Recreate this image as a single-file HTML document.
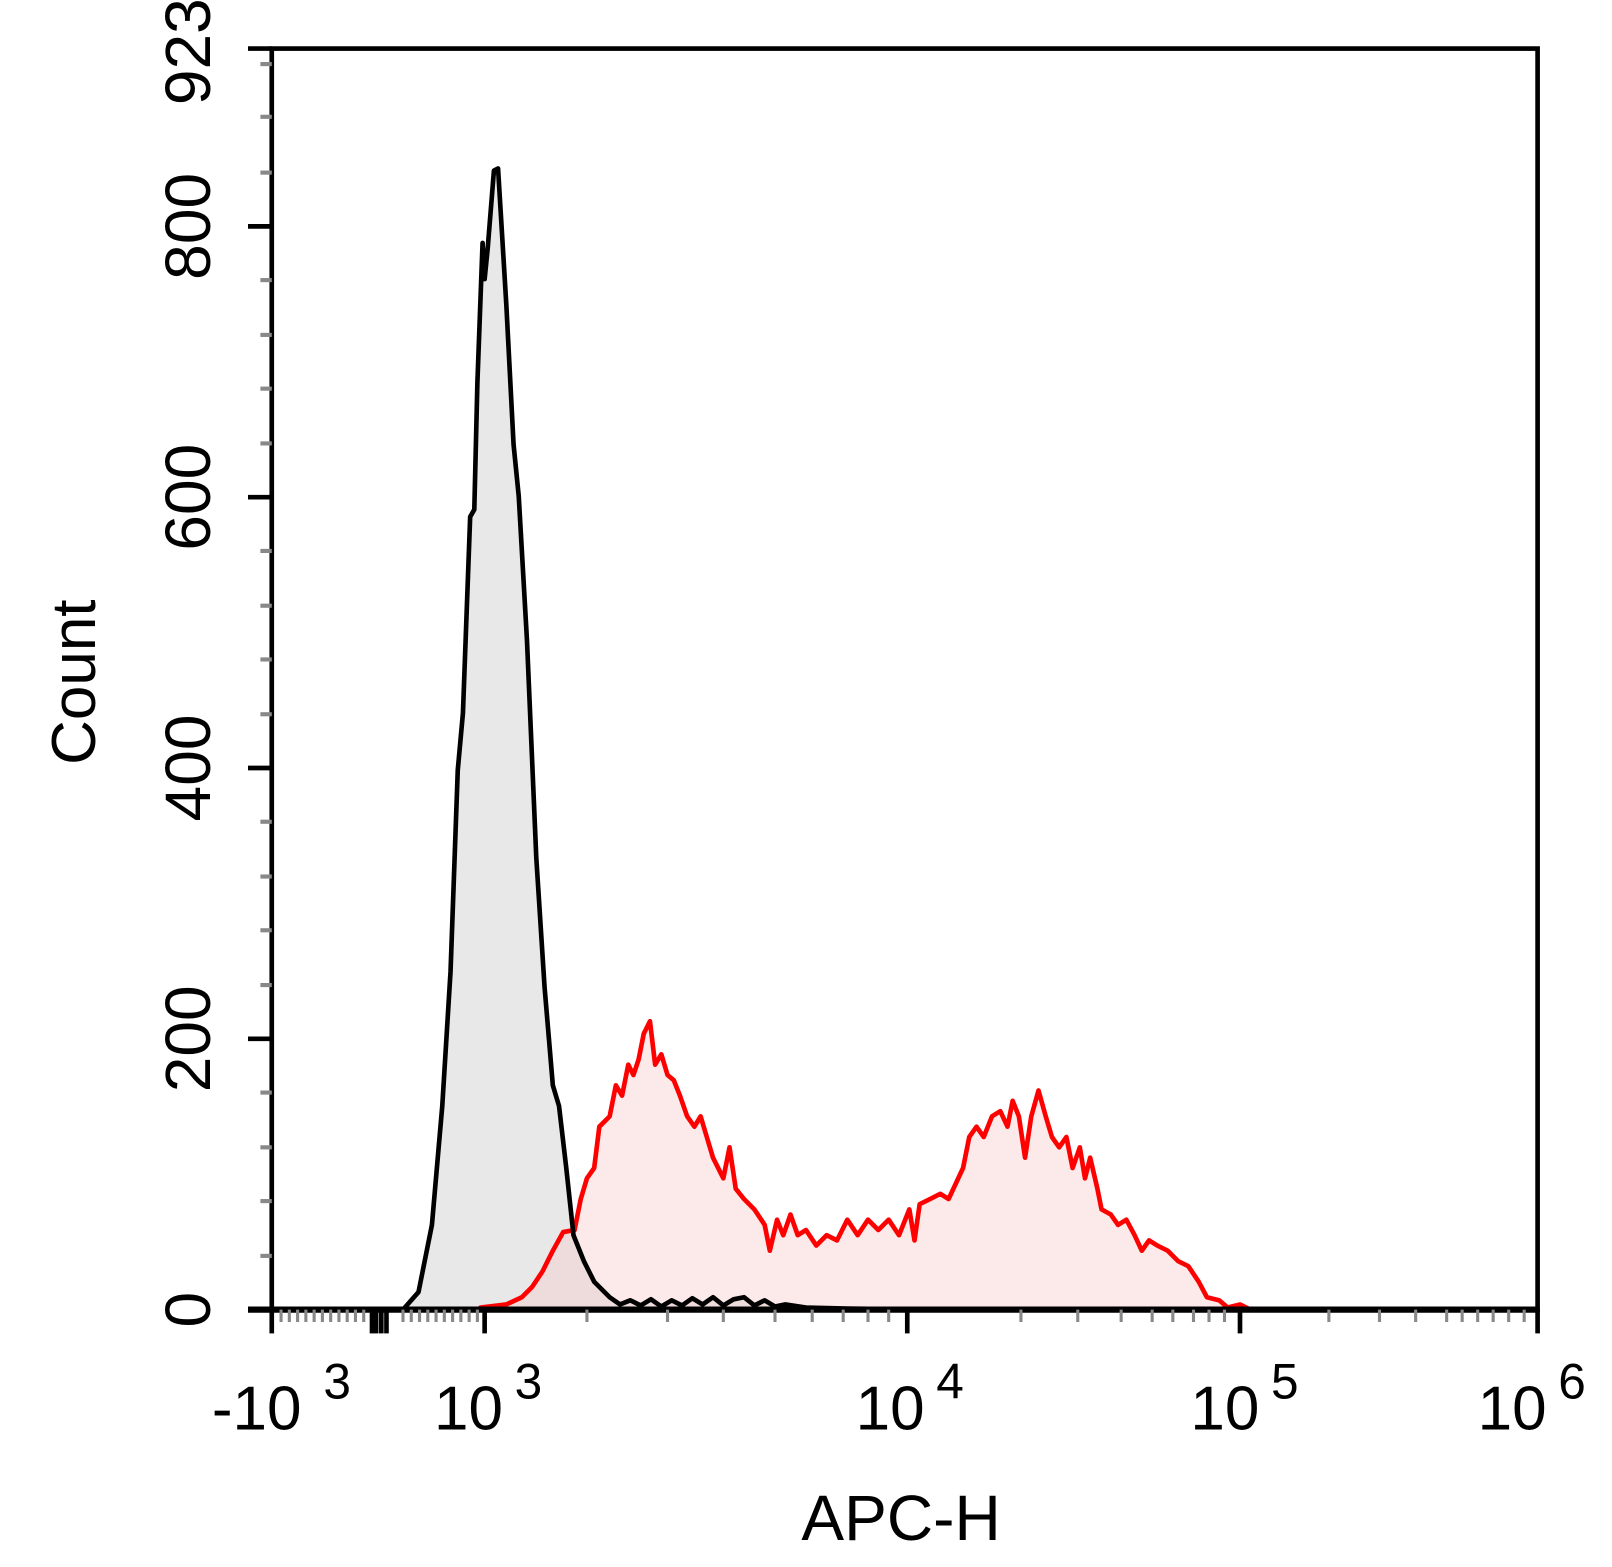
<!DOCTYPE html>
<html><head><style>html,body{margin:0;padding:0;background:#fff}svg{display:block}</style></head>
<body>
<svg width="1612" height="1567" viewBox="0 0 1560 1516" preserveAspectRatio="none" xmlns="http://www.w3.org/2000/svg" font-family="Liberation Sans, Arial, sans-serif">
<rect width="1560" height="1516" fill="#fff"/>
<defs>
<path id="blk" d="M390,1267 L405,1250 418,1185 428,1070 436,940 443,745 448,690 455,500 459,493 462,370 467,235 469,270 472,240 478,165 482,163 490,295 497,430 502,480 510,620 519,830 527,955 535,1050 541,1070 548,1130 555,1195 565,1220 575,1240 590,1255 600,1262 610,1258 620,1263 630,1257 640,1264 650,1258 660,1263 670,1256 680,1262 690,1255 700,1263 710,1257 720,1255 730,1263 740,1258 750,1264 760,1262 780,1265 820,1266 900,1267 Z"/>
</defs>
<use href="#blk" fill="#e8e8e8"/>
<!-- red histogram -->
<path d="M465,1267 L465,1265 490,1262 505,1255 515,1245 525,1230 535,1210 545,1192 556,1190 562,1160 568,1140 575,1130 580,1090 590,1080 596,1050 602,1060 608,1030 613,1040 618,1025 623,1000 629,988 634,1030 640,1020 646,1040 652,1045 658,1060 665,1080 672,1090 678,1080 684,1100 690,1120 700,1140 706,1110 712,1150 720,1160 730,1170 740,1185 745,1210 752,1180 758,1195 765,1175 772,1195 780,1190 790,1205 800,1195 810,1200 820,1180 830,1195 840,1180 850,1190 860,1180 870,1195 880,1170 885,1200 890,1165 900,1160 910,1155 918,1160 925,1145 932,1130 938,1100 945,1090 952,1100 960,1080 968,1075 975,1090 980,1065 986,1080 992,1120 998,1080 1005,1055 1012,1080 1018,1100 1025,1110 1032,1100 1038,1130 1045,1110 1050,1140 1055,1120 1062,1150 1066,1170 1075,1175 1082,1185 1090,1180 1098,1195 1105,1210 1112,1200 1120,1205 1130,1210 1140,1220 1150,1225 1160,1240 1168,1255 1180,1258 1188,1265 1200,1262 1210,1267 Z" fill="rgba(248,200,200,0.4)" stroke="#f00" stroke-width="4.5" stroke-linejoin="round"/>
<use href="#blk" fill="none" stroke="#000" stroke-width="4.5" stroke-linejoin="round"/>
<!-- axes frame -->
<rect x="263" y="47" width="1225" height="1220" fill="none" stroke="#000" stroke-width="4.5"/>
<line x1="240" y1="1267" x2="1490" y2="1267" stroke="#000" stroke-width="6"/>
<line x1="240" y1="47" x2="263" y2="47" stroke="#000" stroke-width="4.5"/>
<g stroke="#000" stroke-width="4.5">
<line x1="240" y1="1005" x2="263" y2="1005"/><line x1="240" y1="743" x2="263" y2="743"/><line x1="240" y1="481" x2="263" y2="481"/><line x1="240" y1="219" x2="263" y2="219"/>
</g>
<g stroke="#888" stroke-width="4">
<line x1="252" y1="1215" x2="263" y2="1215"/><line x1="252" y1="1162" x2="263" y2="1162"/><line x1="252" y1="1110" x2="263" y2="1110"/><line x1="252" y1="1057" x2="263" y2="1057"/>
<line x1="252" y1="953" x2="263" y2="953"/><line x1="252" y1="900" x2="263" y2="900"/><line x1="252" y1="848" x2="263" y2="848"/><line x1="252" y1="795" x2="263" y2="795"/>
<line x1="252" y1="691" x2="263" y2="691"/><line x1="252" y1="638" x2="263" y2="638"/><line x1="252" y1="586" x2="263" y2="586"/><line x1="252" y1="533" x2="263" y2="533"/>
<line x1="252" y1="429" x2="263" y2="429"/><line x1="252" y1="376" x2="263" y2="376"/><line x1="252" y1="324" x2="263" y2="324"/><line x1="252" y1="271" x2="263" y2="271"/>
<line x1="252" y1="167" x2="263" y2="167"/><line x1="252" y1="113" x2="263" y2="113"/><line x1="252" y1="62" x2="263" y2="62"/>
</g>
<g stroke="#000" stroke-width="4.5">
<line x1="263" y1="1267" x2="263" y2="1290"/><line x1="469" y1="1267" x2="469" y2="1290"/><line x1="878" y1="1267" x2="878" y2="1290"/><line x1="1200" y1="1267" x2="1200" y2="1290"/><line x1="1488" y1="1267" x2="1488" y2="1290"/>
<line x1="360" y1="1267" x2="360" y2="1290"/><line x1="364" y1="1267" x2="364" y2="1290"/><line x1="369" y1="1267" x2="369" y2="1290"/><line x1="374" y1="1267" x2="374" y2="1290"/>
</g>
<g stroke="#888" stroke-width="3">
<path d="M272,1267v12M280,1267v12M288,1267v12M296,1267v12M304,1267v12M312,1267v12M320,1267v12M328,1267v12M336,1267v12M344,1267v12M352,1267v12M390,1267v12M398,1267v12M406,1267v12M414,1267v12M422,1267v12M430,1267v12M438,1267v12M446,1267v12M454,1267v12M462,1267v12M568,1267v12M646,1267v12M700,1267v12M750,1267v12M786,1267v12M816,1267v12M840,1267v12M860,1267v12M988,1267v12M1043,1267v12M1085,1267v12M1115,1267v12M1135,1267v12M1155,1267v12M1170,1267v12M1185,1267v12M1286,1267v12M1335,1267v12M1370,1267v12M1400,1267v12M1415,1267v12M1430,1267v12M1445,1267v12M1460,1267v12M1475,1267v12"/>
</g>
<g font-size="62" fill="#000" text-anchor="middle">
<text transform="translate(203,1267) rotate(-90)">0</text>
<text transform="translate(203,1005) rotate(-90)">200</text>
<text transform="translate(203,743) rotate(-90)">400</text>
<text transform="translate(203,481) rotate(-90)">600</text>
<text transform="translate(203,219) rotate(-90)">800</text>
<text transform="translate(203,50) rotate(-90)">923</text>
<text transform="translate(92,660) rotate(-90)" font-size="60">Count</text>
</g>
<g font-size="60" fill="#000">
<text x="205" y="1383">-10</text><text x="313" y="1353" font-size="48">3</text>
<text x="420" y="1383">10</text><text x="498" y="1353" font-size="48">3</text>
<text x="828" y="1383">10</text><text x="906" y="1353" font-size="48">4</text>
<text x="1152" y="1383">10</text><text x="1230" y="1353" font-size="48">5</text>
<text x="1430" y="1383">10</text><text x="1508" y="1353" font-size="48">6</text>
<text x="872" y="1490" text-anchor="middle" font-size="62">APC-H</text>
</g>
</svg>
</body></html>
